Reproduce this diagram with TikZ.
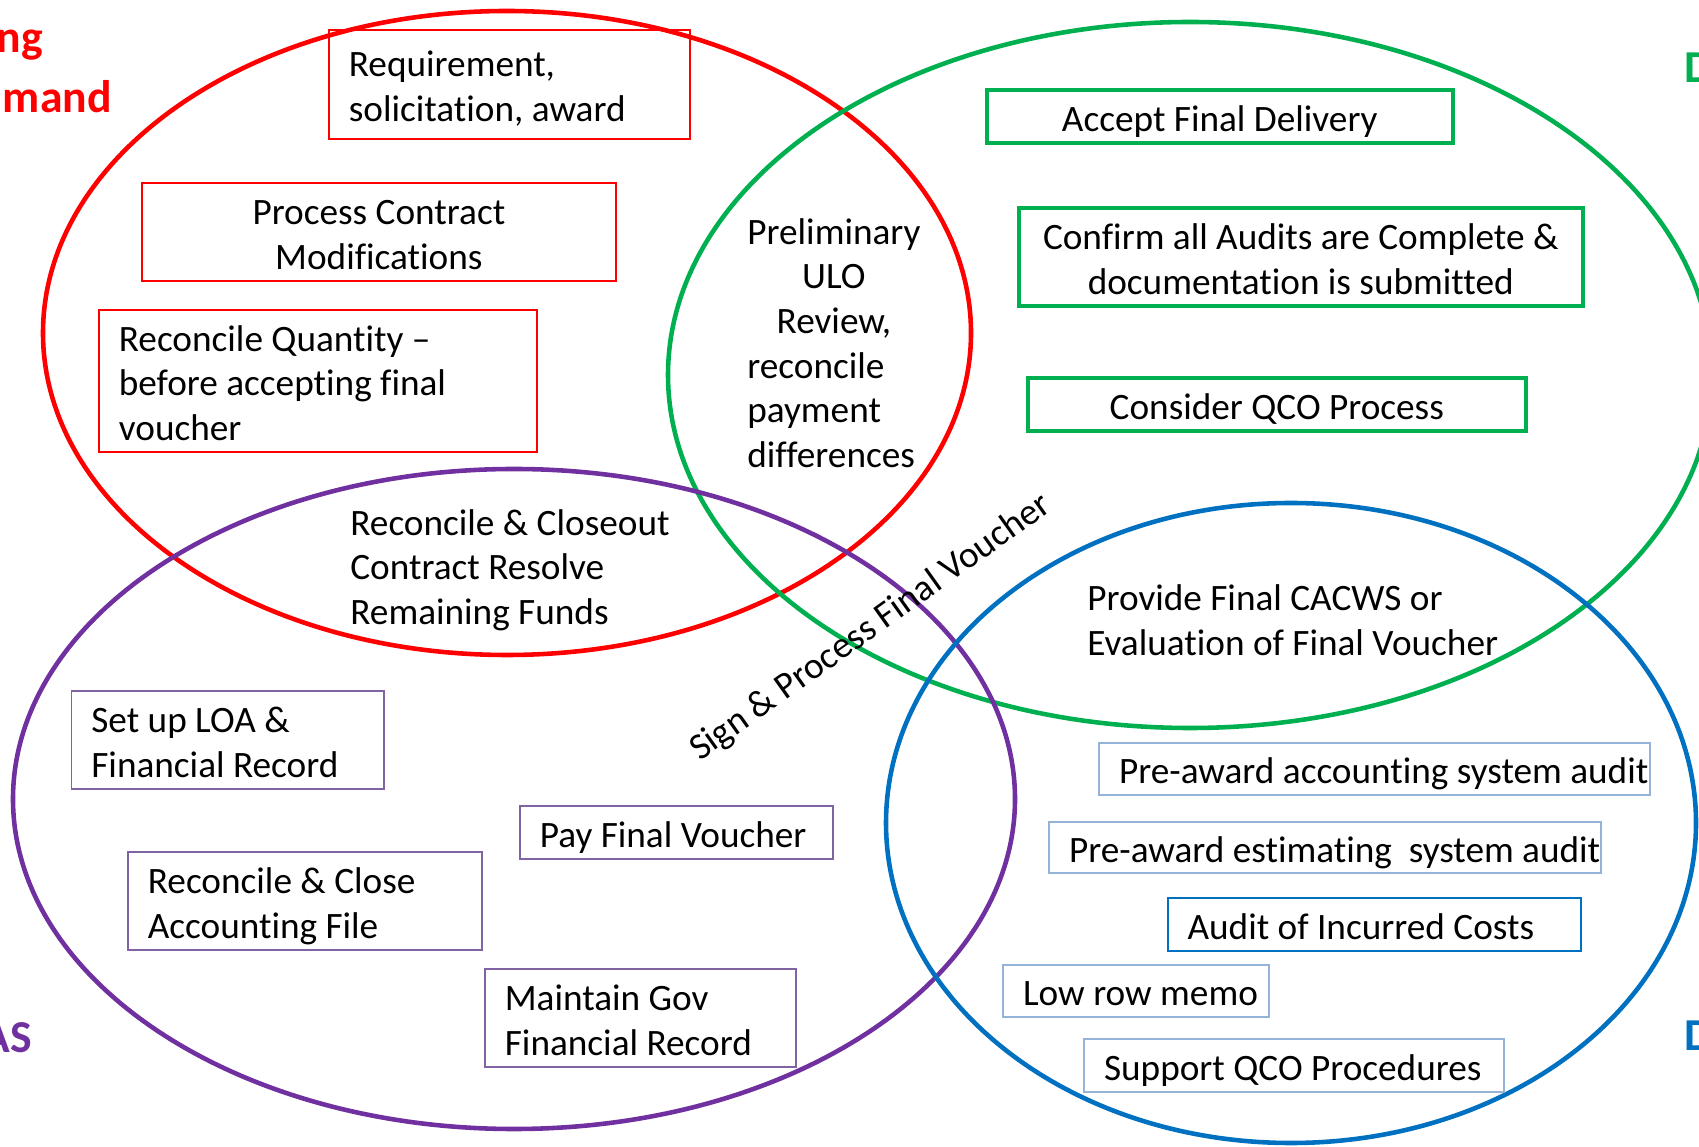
\documentclass[tikz,border=0pt]{standalone}
\usepackage{fontspec}
\setmainfont{Carlito}[Ligatures={TeX,NoCommon}]
\setlength{\parindent}{0pt}

\definecolor{vred}{RGB}{255,0,0}
\definecolor{vgreen}{RGB}{0,176,80}
\definecolor{vpurple}{RGB}{112,48,160}
\definecolor{vblue}{RGB}{0,112,192}
\definecolor{paleblue}{RGB}{149,179,215}
\definecolor{softpurple}{RGB}{128,100,162}

% line strut so that one- and two-line boxes sit the same way
\newcommand{\tstrut}{\rule[-4.3pt]{0pt}{25.4pt}}

\begin{document}
\begin{tikzpicture}[
    font=\fontsize{21.2}{25.4}\selectfont,
    ring/.style={line width=2.6pt},
    box/.style={draw, rectangle, anchor=west, inner xsep=0.4cm, inner ysep=0pt, align=flush left,
      execute at begin node=\tstrut, execute at end node=\tstrut},
    redbox/.style={box, draw=vred, line width=1pt},
    greenbox/.style={box, draw=vgreen, line width=2pt, align=flush center},
    bluebox/.style={box, draw=paleblue, line width=1.2pt},
    purplebox/.style={box, draw=softpurple, line width=1pt},
    tag/.style={font=\fontsize{26}{30}\selectfont\bfseries, inner sep=0pt}
  ]

    \useasboundingbox (0,0) rectangle (33.98,22.92);

    % Draw the four rings
    \draw[ring, vred] (10.14,16.26) ellipse [x radius=9.28, y radius=6.44];
    \draw[ring, vgreen] (23.8,15.42) ellipse [x radius=10.44, y radius=7.06];
    \draw[ring, vpurple] (10.28,6.94) ellipse [x radius=10.02, y radius=6.6];
    \draw[ring, vblue] (25.82,6.46) ellipse [x radius=8.1, y radius=6.4];

    % Group names at the corners
    \node[tag, text=vred, anchor=base east] (ng) at (0.86,21.86) {ng};
    \node[tag, text=vred, anchor=base east] (mand) at (2.24,20.66) {mand};
    \node[tag, text=vgreen, anchor=base west] (dtop) at (33.69,21.26) {D};
    \node[tag, text=vblue, anchor=base west] (dbot) at (33.69,1.92) {D};
    \node[tag, text=vpurple, anchor=base east] (as) at (0.64,1.88) {AS};

    % Red boxes
    \node[redbox, text width=6.42cm, minimum height=2.18cm] (req) at (6.56,21.23) {Requirement,\\ solicitation, award};
    \node[redbox, align=flush center, text width=8.68cm, minimum height=1.96cm] (mods) at (2.82,18.28) {Process Contract\\ Modifications};
    \node[redbox, text width=7.96cm, minimum height=2.84cm] (qty) at (1.96,15.30) {Reconcile Quantity –\\ before accepting final\\ voucher};

    % Green boxes
    \node[greenbox, text width=8.52cm, minimum height=1.06cm] (accept) at (19.70,20.59) {Accept Final Delivery};
    \node[greenbox, text width=10.48cm, minimum height=1.96cm] (audits) at (20.34,17.78) {Confirm all Audits are Complete \&\\ documentation is submitted};
    \node[greenbox, text width=9.16cm, minimum height=1.06cm] (qco) at (20.52,14.83) {Consider QCO Process};

    % Blue boxes
    \node[bluebox, text width=10.22cm, minimum height=1.04cm] (acct) at (21.96,7.54) {\mbox{Pre-award accounting system audit}};
    \node[bluebox, text width=10.24cm, minimum height=1.02cm] (est) at (20.96,5.97) {\mbox{Pre-award estimating~ system audit}};
    \node[bluebox, draw=vblue, text width=7.47cm, minimum height=1.06cm] (incurred) at (23.33,4.43) {\mbox{Audit of Incurred Costs}};
    \node[bluebox, text width=4.52cm, minimum height=1.04cm] (memo) at (20.04,3.10) {\mbox{Low row memo}};
    \node[bluebox, text width=7.60cm, minimum height=1.06cm] (support) at (21.66,1.61) {\mbox{Support QCO Procedures}};

    % Purple boxes
    \node[purplebox, text width=5.45cm, minimum height=1.96cm] (loa) at (1.41,8.12) {Set up LOA \&\\ Financial Record};
    \node[purplebox, text width=5.46cm, minimum height=1.06cm] (pay) at (10.38,6.27) {\mbox{Pay Final Voucher}};
    \node[purplebox, text width=6.28cm, minimum height=1.96cm] (close) at (2.54,4.90) {Reconcile \& Close\\ Accounting File};
    \node[purplebox, text width=5.42cm, minimum height=1.96cm] (gov) at (9.68,2.56) {Maintain Gov\\ Financial Record};

    % Text in the overlaps
    \node[anchor=west, text width=3.46cm, align=flush left, inner sep=0pt] (ulo) at (14.94,16.06) {{\centering Preliminary\\ ULO\\ Review,\par}reconcile\\ payment\\ differences};
    \node[anchor=west, align=flush left, inner sep=0pt] (closeout) at (7.0,11.52) {Reconcile \& Closeout\\ Contract Resolve\\ Remaining Funds};
    \node[anchor=west, align=flush left, inner sep=0pt] (cacws) at (21.74,10.51) {Provide Final CACWS or\\ Evaluation of Final Voucher};
    \node[rotate=35.5, inner sep=0pt] (sign) at (17.42,10.36) {Sign \& Process Final Voucher};

\end{tikzpicture}
\end{document}
